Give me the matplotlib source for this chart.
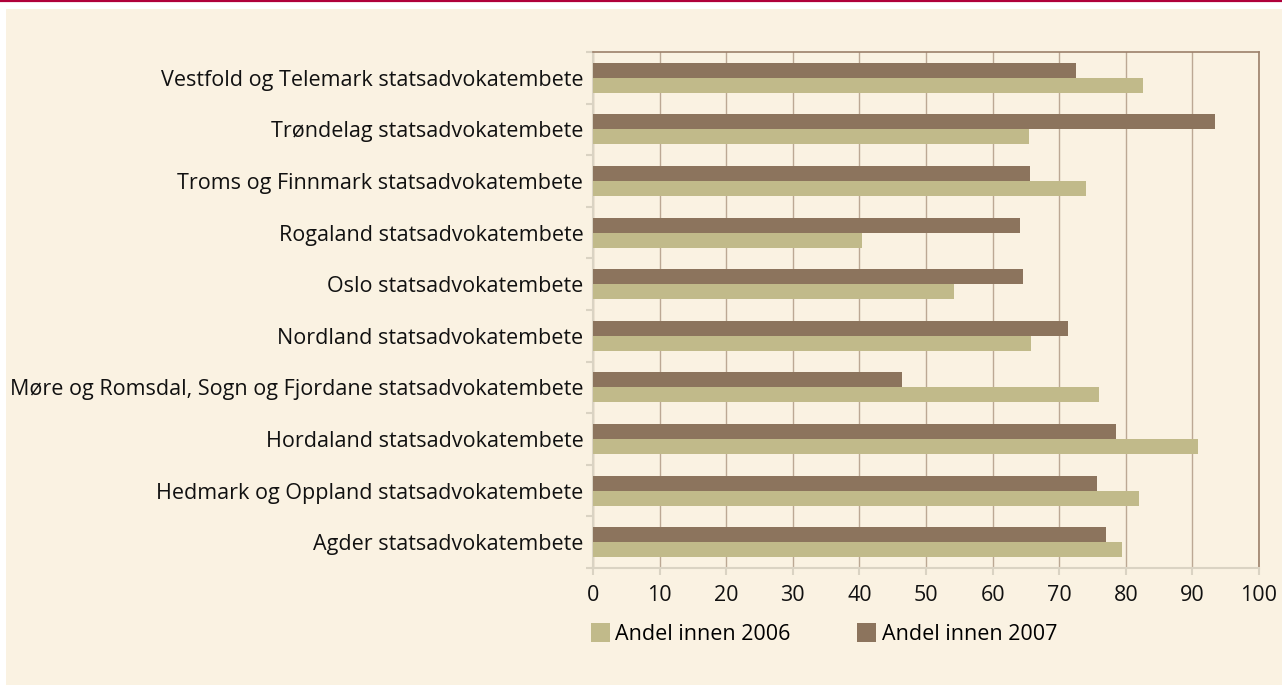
import matplotlib.pyplot as plt
import numpy as np
from matplotlib.patches import Rectangle
from matplotlib.lines import Line2D

# kategorier fra bunn til topp
kontorer = [
    "Agder statsadvokatembete",
    "Hedmark og Oppland statsadvokatembete",
    "Hordaland statsadvokatembete",
    "Møre og Romsdal, Sogn og Fjordane statsadvokatembete",
    "Nordland statsadvokatembete",
    "Oslo statsadvokatembete",
    "Rogaland statsadvokatembete",
    "Troms og Finnmark statsadvokatembete",
    "Trøndelag statsadvokatembete",
    "Vestfold og Telemark statsadvokatembete",
]
andel_2006 = [79.4, 82.0, 90.8, 76.0, 65.7, 54.2, 40.4, 74.0, 65.4, 82.6]
andel_2007 = [77.1, 75.7, 78.5, 46.4, 71.3, 64.5, 64.1, 65.6, 93.4, 72.5]
xticks = list(range(0, 101, 10))

BG = '#FAF2E2'
LYS = '#C1BA8A'
MORK = '#8C745D'
FS = 15.5

plt.rcParams['font.family'] = ['Open Sans', 'DejaVu Sans']

fig = plt.figure(figsize=(12.82, 6.86), dpi=100)
fig.patch.set_facecolor('white')

# kremfarget bakgrunn og rød strek øverst
W, H = 1282, 686
fig.add_artist(Rectangle((6 / W, 1 / H), 1 - 6 / W, 1 - 10 / H, transform=fig.transFigure,
                         facecolor=BG, edgecolor='none', zorder=0))
fig.add_artist(Line2D([0, 1], [1 - 1 / H, 1 - 1 / H], transform=fig.transFigure,
                      color='#B0003A', lw=1.6))

ax = fig.add_axes([593 / W, 1 - 568 / H, (1259 - 593) / W, (568 - 52) / H])
ax.set_facecolor(BG)

y = np.arange(len(kontorer))
h = 0.29
ax.barh(y - h / 2, andel_2006, height=h, color=LYS, label='Andel innen 2006', zorder=3)
ax.barh(y + h / 2, andel_2007, height=h, color=MORK, label='Andel innen 2007', zorder=3)

ax.set_xlim(0, 100)
ax.set_ylim(-0.5, len(kontorer) - 0.5)
ax.set_xticks(xticks)
ax.set_xticklabels([str(t) for t in xticks], fontsize=FS, color='#111111')
ax.set_yticks(y)
ax.set_yticklabels(kontorer, fontsize=FS, color='#111111')
ax.set_yticks(np.arange(-0.5, len(kontorer), 1), minor=True)

ax.tick_params(axis='y', which='major', length=0, pad=7)
ax.tick_params(axis='y', which='minor', length=5, color='#DAD3C3', width=1.5)
ax.tick_params(axis='x', length=5, color='#DAD3C3', width=1.5, pad=7)

ax.grid(axis='x', color='#BCA894', lw=1.0, zorder=1)
for s in ['top', 'right']:
    ax.spines[s].set_color('#9C806A')
    ax.spines[s].set_linewidth(1.2)
for s in ['left', 'bottom']:
    ax.spines[s].set_color('#DAD3C3')
    ax.spines[s].set_linewidth(1.5)

leg = ax.legend(loc='upper left', bbox_to_anchor=(-0.016, -0.09), ncol=2, frameon=False,
                fontsize=FS, handlelength=0.88, handleheight=1.0, handletextpad=0.25,
                columnspacing=3.1, borderaxespad=0)

fig.savefig('out.png', dpi=100, facecolor=fig.get_facecolor())
